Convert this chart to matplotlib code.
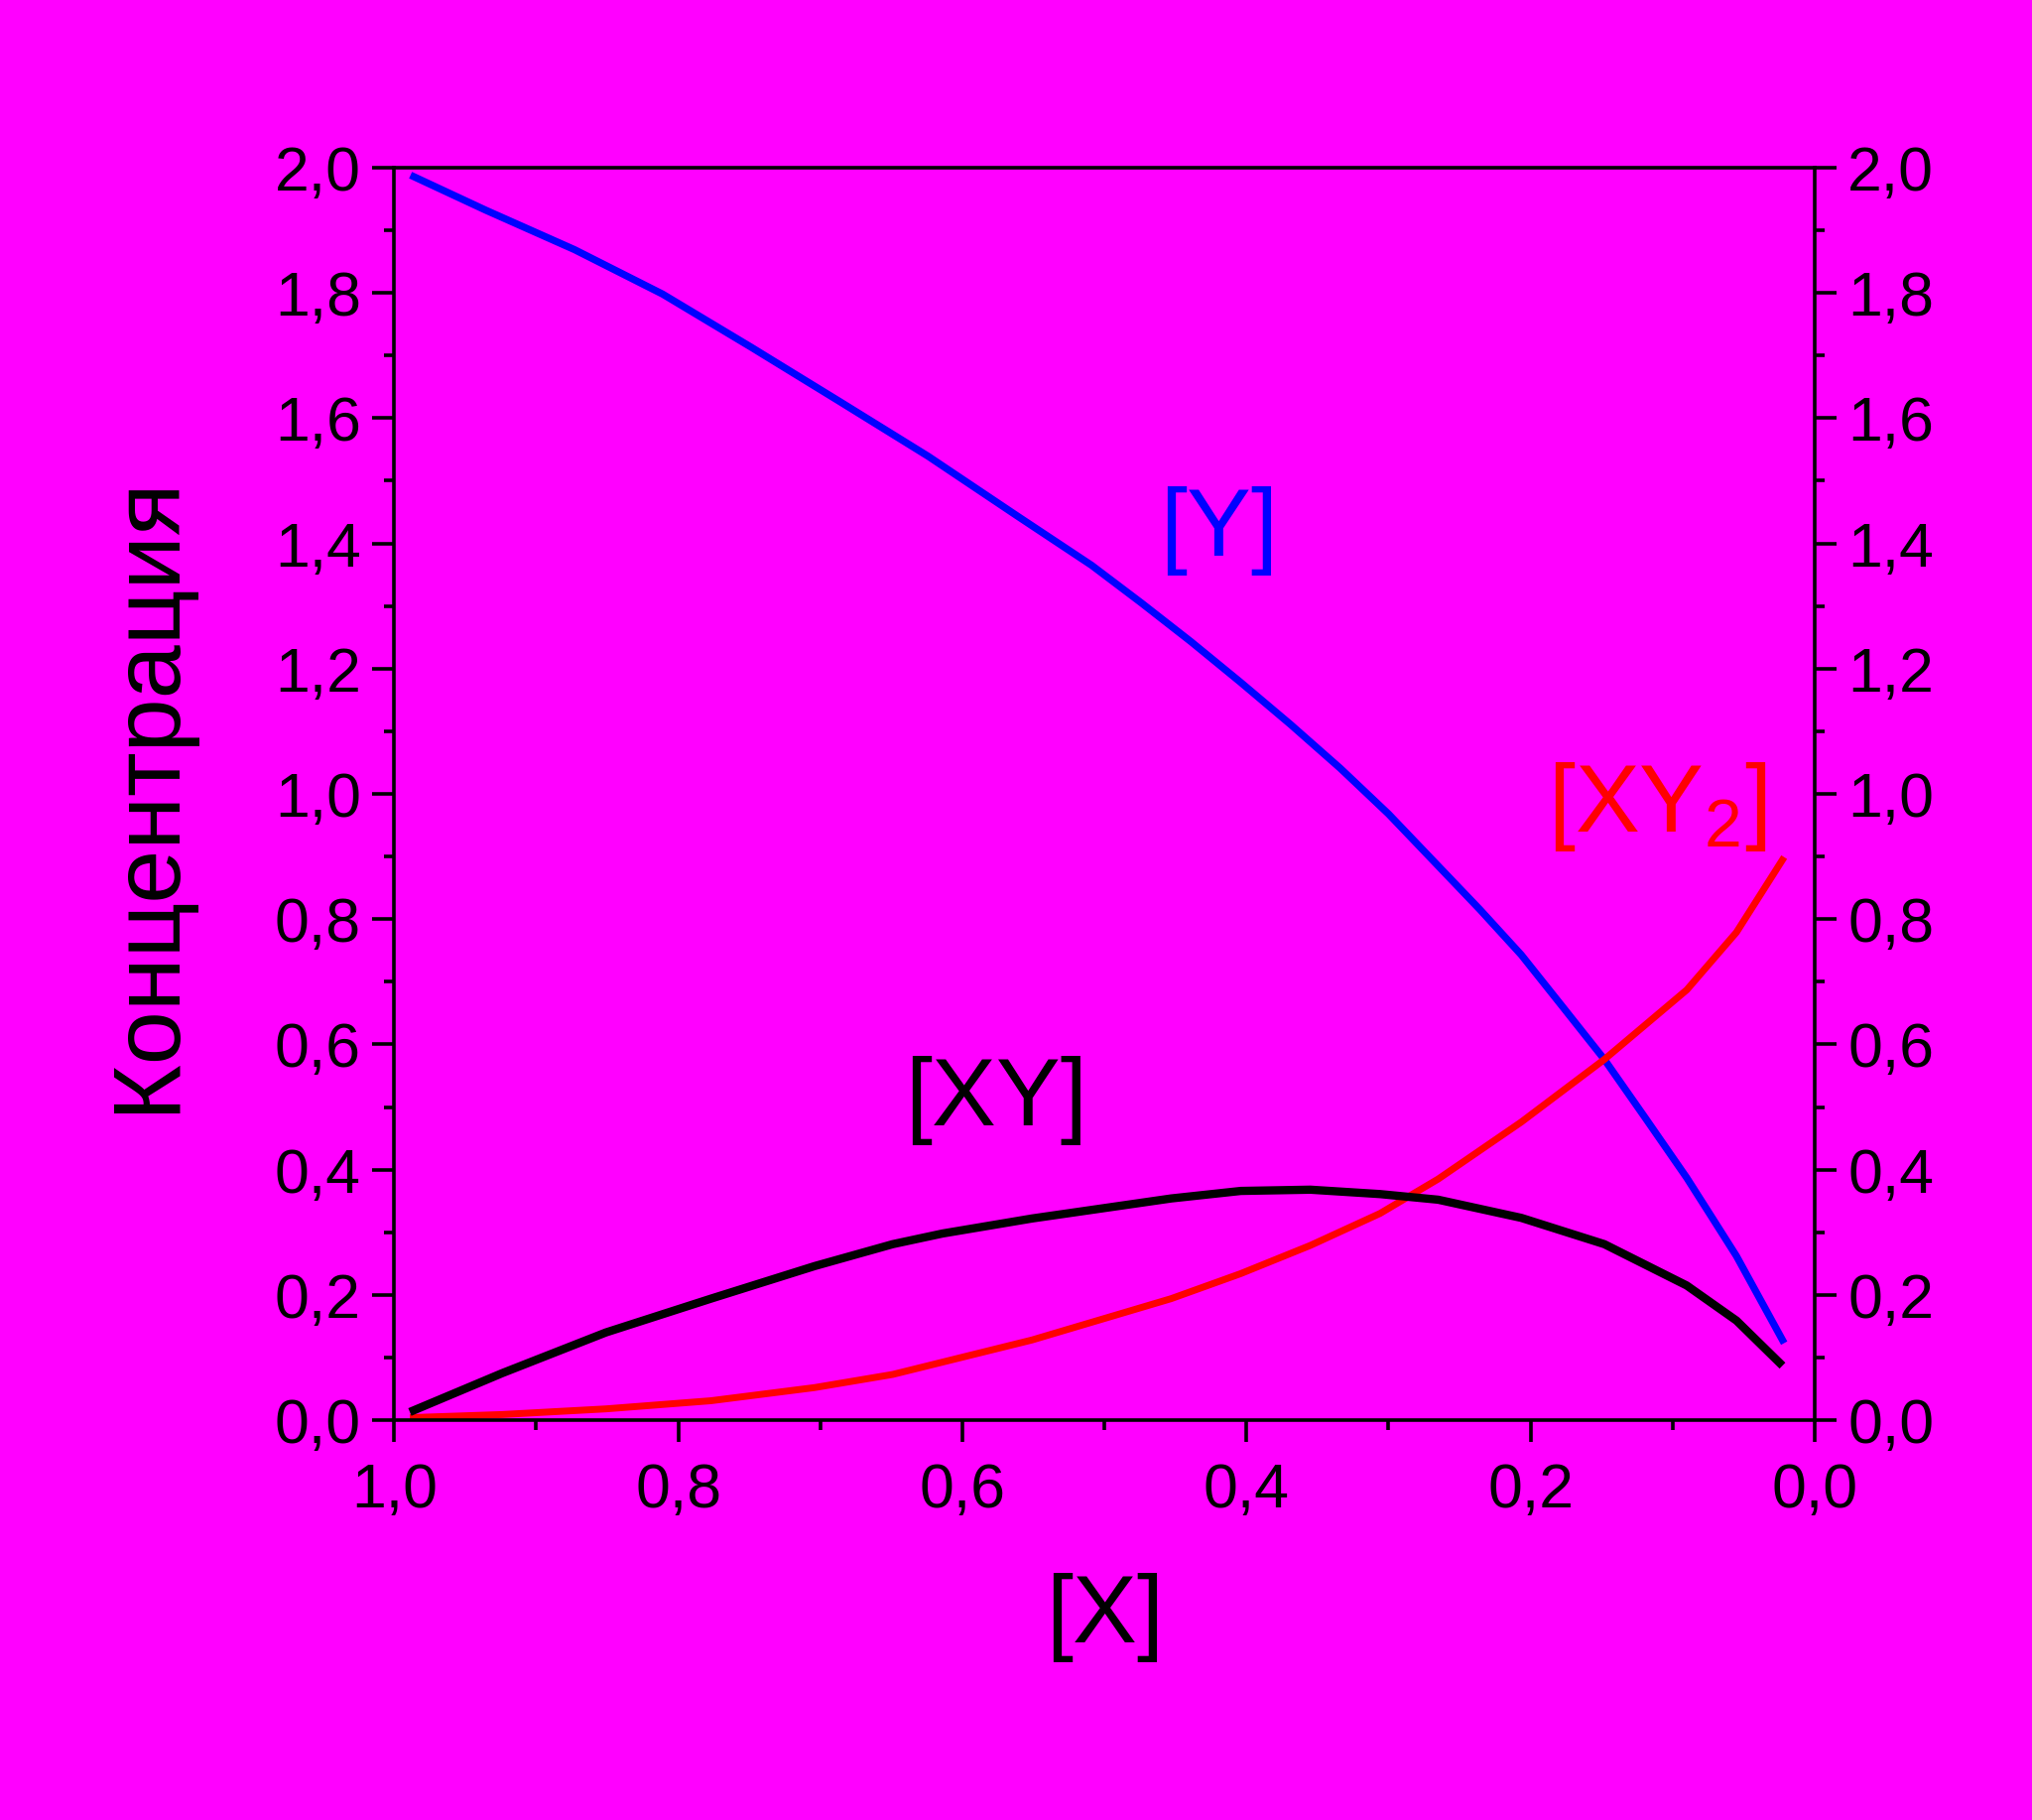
import numpy as np
import matplotlib.pyplot as plt
from matplotlib.ticker import MultipleLocator, FuncFormatter

plt.rcParams['font.family'] = ['Liberation Sans Narrow', 'Liberation Sans', 'DejaVu Sans']
plt.rcParams['mathtext.fontset'] = 'custom'
plt.rcParams['mathtext.rm'] = 'Liberation Sans'

# values
x_y = [0.9885, 0.9355, 0.873, 0.811, 0.7485, 0.686, 0.624, 0.5615, 0.509, 0.474, 0.439,
       0.404, 0.369, 0.334, 0.300, 0.265, 0.2355, 0.2065, 0.177, 0.148, 0.119, 0.090,
       0.0726, 0.055, 0.0214]
y_free = [1.988, 1.932, 1.869, 1.798, 1.713, 1.626, 1.539, 1.444, 1.365, 1.305, 1.243,
          1.178, 1.111, 1.041, 0.968, 0.885, 0.815, 0.743, 0.659, 0.576, 0.482, 0.387,
          0.325, 0.262, 0.123]

x_xy2 = [0.989, 0.924, 0.851, 0.777, 0.704, 0.649, 0.551, 0.453, 0.404, 0.355,
         0.306, 0.265, 0.2065, 0.148, 0.090, 0.055, 0.0214]
xy2 = [0.004, 0.009, 0.018, 0.031, 0.052, 0.073, 0.128, 0.194, 0.234, 0.279,
       0.330, 0.385, 0.476, 0.576, 0.687, 0.779, 0.899]

x_xy = [0.989, 0.924, 0.851, 0.777, 0.704, 0.649, 0.614, 0.551, 0.453, 0.404, 0.355,
        0.306, 0.265, 0.2065, 0.148, 0.090, 0.055, 0.0226]
xy = [0.013, 0.075, 0.140, 0.194, 0.246, 0.281, 0.298, 0.322, 0.354, 0.366, 0.368,
      0.361, 0.352, 0.323, 0.281, 0.215, 0.159, 0.087]

bg = '#ff00ff'
fig = plt.figure(figsize=(20.48, 18.34), dpi=100, facecolor=bg)
ax = fig.add_axes([0.194, 0.2197, 0.699, 0.6882], facecolor=bg)

ax.plot(x_y, y_free, color='#0000ff', lw=5.2, solid_capstyle='butt', solid_joinstyle='round')
ax.plot(x_xy2, xy2, color='#ff0000', lw=5, solid_capstyle='butt', solid_joinstyle='round')
ax.plot(x_xy, xy, color='black', lw=6, solid_capstyle='butt', solid_joinstyle='round')

ax.set_xlim(1.0, 0.0)
ax.set_ylim(0.0, 2.0)
ax.xaxis.set_major_locator(MultipleLocator(0.2))
ax.xaxis.set_minor_locator(MultipleLocator(0.1))
ax.yaxis.set_major_locator(MultipleLocator(0.2))
ax.yaxis.set_minor_locator(MultipleLocator(0.1))
fmt = FuncFormatter(lambda v, p: ('%.1f' % abs(v)).replace('.', ','))
ax.xaxis.set_major_formatter(fmt)
ax.yaxis.set_major_formatter(fmt)

for s in ax.spines.values():
    s.set_linewidth(2.6)
ax.tick_params(which='both', direction='out', width=2.6, colors='black',
               left=True, right=True, top=False, bottom=True,
               labelleft=True, labelright=True)
ax.tick_params(which='major', length=16, labelsize=45)
ax.tick_params(which='minor', length=7)
ax.tick_params(axis='y', which='major', pad=8)
ax.tick_params(axis='x', which='major', pad=14)

ax.set_xlabel('[X]', fontsize=70, labelpad=38)
ax.set_ylabel('Концентрация', fontsize=70, labelpad=60)

ax.text(0.419, 1.42, '[Y]', color='#0000ff', fontsize=70, ha='center', va='center')
ax.text(0.576, 0.51, '[XY]', color='black', fontsize=70, ha='center', va='center')
ax.text(0.111, 0.98, r'[XY$_\mathregular{2}$]', color='#ff0000', fontsize=70,
        ha='center', va='center')

fig.savefig('out.png', facecolor=bg)
